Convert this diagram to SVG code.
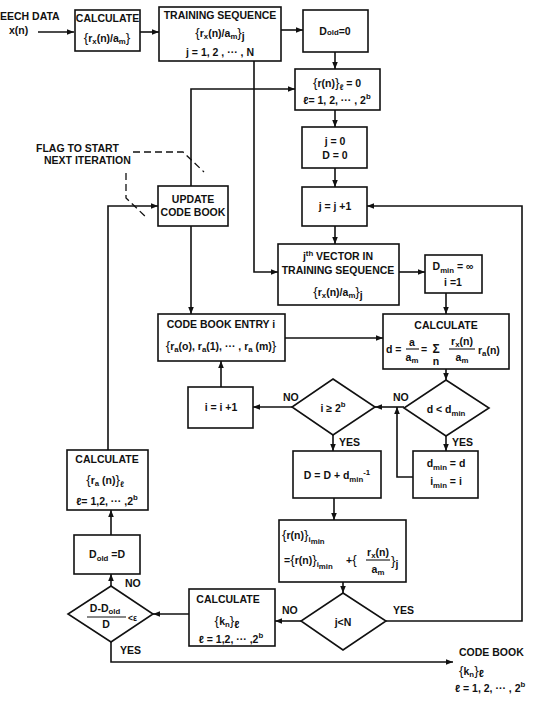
<svg xmlns="http://www.w3.org/2000/svg" width="537" height="704" viewBox="0 0 537 704">
<style>
text{font-family:"Liberation Sans",Arial,sans-serif;font-size:10.5px;font-weight:bold;fill:#111;}
.c{text-anchor:middle;}
.s{font-size:7.8px;}
.b{font-size:13.5px;font-weight:normal;}
rect,polygon.n{fill:#fff;stroke:#111;stroke-width:1.6;}
.cn path{fill:none;stroke:#111;stroke-width:1.6;}
.fr{stroke:#111;stroke-width:1.1;}
.dash{fill:none;stroke:#111;stroke-width:1.3;stroke-dasharray:7,4;}
</style>
<defs>
<marker id="a" viewBox="0 0 10 10" refX="10" refY="5" markerWidth="7" markerHeight="7" markerUnits="userSpaceOnUse" orient="auto">
<path d="M0,1 L10,5 L0,9 z" fill="#111"/>
</marker>
</defs>

<g class="cn" id="connectors">
<path d="M38,32 H74" marker-end="url(#a)"/>
<path d="M140,32 H159" marker-end="url(#a)"/>
<path d="M281,30 H303" marker-end="url(#a)"/>
<path d="M335,52 V69" marker-end="url(#a)"/>
<path d="M254,61 V272 H278" marker-end="url(#a)"/>
<path d="M191,186 V89 H295" marker-end="url(#a)"/>
<path d="M335,110 V127" marker-end="url(#a)"/>
<path d="M335,168 V187" marker-end="url(#a)"/>
<path d="M335,226 V244" marker-end="url(#a)"/>
<path d="M399,272 H425" marker-end="url(#a)"/>
<path d="M446,293 V314" marker-end="url(#a)"/>
<path d="M191,226 V314" marker-end="url(#a)"/>
<path d="M285,338 H383" marker-end="url(#a)"/>
<path d="M446,369 V380" marker-end="url(#a)"/>
<path d="M404,407 H375" marker-end="url(#a)"/>
<path d="M446,436 V451" marker-end="url(#a)"/>
<path d="M413,477 H397 V407" marker-end="url(#a)"/>
<path d="M292,407 H253" marker-end="url(#a)"/>
<path d="M221,387 V361" marker-end="url(#a)"/>
<path d="M333,435 V451" marker-end="url(#a)"/>
<path d="M334,498 V520" marker-end="url(#a)"/>
<path d="M343,582 V593" marker-end="url(#a)"/>
<path d="M301,621 H275" marker-end="url(#a)"/>
<path d="M386,621 H522 V206 H367" marker-end="url(#a)"/>
<path d="M189,614 H153" marker-end="url(#a)"/>
<path d="M111,586 V574" marker-end="url(#a)"/>
<path d="M111,535 V510" marker-end="url(#a)"/>
<path d="M108,450 V206 H158" marker-end="url(#a)"/>
<path d="M111,642 V662 H453" marker-end="url(#a)"/>
</g>

<g id="labels">
<text x="282" y="614">NO</text>
<text x="393" y="614">YES</text>
<text x="283" y="401">NO</text>
<text x="393" y="401">NO</text>
<text x="339" y="446">YES</text>
<text x="452" y="446">YES</text>
<text x="125" y="587">NO</text>
<text x="120" y="654">YES</text>
</g>

<g id="speech">
<text x="0" y="20">EECH DATA</text>
<text x="9" y="34">x(n)</text>
</g>

<g id="calc1">
<rect x="75" y="10" width="65" height="41"/>
<text class="c" x="107.5" y="22">CALCULATE</text>
<text class="c" x="107" y="42"><tspan class="b">{</tspan>r<tspan class="s" dy="2">x</tspan><tspan dy="-2">(n)/a</tspan><tspan class="s" dy="2">m</tspan><tspan class="b" dy="-2">}</tspan></text>
</g>

<g id="training">
<rect x="159" y="7" width="122" height="54"/>
<text class="c" x="220" y="19">TRAINING SEQUENCE</text>
<text class="c" x="220" y="37"><tspan class="b">{</tspan>r<tspan class="s" dy="2">x</tspan><tspan dy="-2">(n)/a</tspan><tspan class="s" dy="2">m</tspan><tspan class="b" dy="-2">}</tspan><tspan dy="3">j</tspan></text>
<text class="c" x="220" y="56">j = 1, 2 , ··· , N</text>
</g>

<g id="dold0">
<rect x="303" y="10" width="65" height="42"/>
<text class="c" x="335" y="35">D<tspan class="s">old</tspan>=0</text>
</g>

<g id="rzero">
<rect x="295" y="69" width="85" height="41"/>
<text class="c" x="337" y="87"><tspan class="b">{</tspan>r(n)<tspan class="b">}</tspan><tspan class="s" dy="3">ℓ</tspan><tspan dy="-3"> = 0</tspan></text>
<text class="c" x="337" y="104">ℓ= 1, 2, ··· , 2<tspan class="s" dy="-5">b</tspan></text>
</g>

<g id="flag">
<text x="36" y="152">FLAG TO START</text>
<text x="44" y="164">NEXT ITERATION</text>
<path class="dash" d="M133,152 H183 L204,172"/>
<path class="dash" d="M126,173 V198 L147,218"/>
</g>

<g id="update">
<rect x="158" y="186" width="70" height="40"/>
<text class="c" x="193" y="203">UPDATE</text>
<text class="c" x="193" y="216">CODE BOOK</text>
</g>

<g id="jzero">
<rect x="302" y="127" width="65" height="41"/>
<text class="c" x="335" y="145">j = 0</text>
<text class="c" x="335" y="159">D = 0</text>
</g>

<g id="jinc">
<rect x="302" y="187" width="65" height="39"/>
<text class="c" x="335" y="210">j = j +1</text>
</g>

<g id="jth">
<rect x="278" y="244" width="121" height="61"/>
<text class="c" x="338" y="260">j<tspan class="s" dy="-4">th</tspan><tspan dy="4"> VECTOR IN</tspan></text>
<text class="c" x="338" y="274">TRAINING SEQUENCE</text>
<text class="c" x="338" y="296"><tspan class="b">{</tspan>r<tspan class="s" dy="2">x</tspan><tspan dy="-2">(n)/a</tspan><tspan class="s" dy="2">m</tspan><tspan class="b" dy="-2">}</tspan><tspan dy="3">j</tspan></text>
</g>

<g id="dmininit">
<rect x="425" y="255" width="57" height="38"/>
<text class="c" x="453" y="270">D<tspan class="s" dy="3">min</tspan><tspan dy="-3"> = ∞</tspan></text>
<text class="c" x="453" y="286">i =1</text>
</g>

<g id="cbentry">
<rect x="158" y="314" width="127" height="47"/>
<text class="c" x="221" y="328">CODE BOOK ENTRY i</text>
<text class="c" x="221" y="350"><tspan class="b">{</tspan>r<tspan class="s" dy="2">a</tspan><tspan dy="-2">(o), r</tspan><tspan class="s" dy="2">a</tspan><tspan dy="-2">(1), ··· , r</tspan><tspan class="s" dy="2">a</tspan><tspan dy="-2"> (m)</tspan><tspan class="b">}</tspan></text>
</g>

<g id="calcd">
<rect x="383" y="314" width="126" height="55"/>
<text class="c" x="446" y="329">CALCULATE</text>
<text x="386" y="353">d =</text>
<text class="c" x="412" y="346">a</text>
<line class="fr" x1="406" y1="349" x2="419" y2="349"/>
<text class="c" x="412" y="361">a<tspan class="s" dy="2">m</tspan></text>
<text x="421" y="353">=</text>
<text class="c" x="436" y="353" style="font-size:12px">Σ</text>
<text class="c" x="436" y="365">n</text>
<text class="c" x="462" y="345">r<tspan class="s" dy="2">x</tspan><tspan dy="-2">(n)</tspan></text>
<line class="fr" x1="449" y1="349" x2="475" y2="349"/>
<text class="c" x="462" y="361">a<tspan class="s" dy="2">m</tspan></text>
<text x="478" y="354">r<tspan class="s" dy="2">a</tspan><tspan dy="-2">(n)</tspan></text>
</g>

<g id="iinc">
<rect x="188" y="387" width="65" height="41"/>
<text class="c" x="221" y="411">i = i +1</text>
</g>

<g id="icmp">
<polygon class="n" points="333,379 375,407 333,435 292,407"/>
<text class="c" x="333" y="412">i ≥ 2<tspan class="s" dy="-5">b</tspan></text>
</g>

<g id="dcmp">
<polygon class="n" points="446,380 489,408 446,436 404,408"/>
<text class="c" x="446" y="413">d &lt; d<tspan class="s" dy="3">min</tspan></text>
</g>

<g id="dminset">
<rect x="413" y="451" width="65" height="47"/>
<text class="c" x="446" y="467">d<tspan class="s" dy="3">min</tspan><tspan dy="-3"> = d</tspan></text>
<text class="c" x="446" y="485">i<tspan class="s" dy="3">min</tspan><tspan dy="-3"> = i</tspan></text>
</g>

<g id="daccum">
<rect x="293" y="451" width="88" height="47"/>
<text class="c" x="337" y="479">D = D + d<tspan class="s" dy="3">min</tspan><tspan class="s" dy="-7">-1</tspan></text>
</g>

<g id="rupdate">
<rect x="279" y="520" width="127" height="62"/>
<text x="282" y="539"><tspan class="b">{</tspan>r(n)<tspan class="b">}</tspan><tspan class="s" dy="3">i</tspan><tspan class="s" dy="2">min</tspan></text>
<text x="284" y="564">=<tspan class="b">{</tspan>r(n)<tspan class="b">}</tspan><tspan class="s" dy="3">i</tspan><tspan class="s" dy="2">min</tspan></text>
<text x="346" y="564">+<tspan class="b">{</tspan></text>
<text class="c" x="378" y="556">r<tspan class="s" dy="2">x</tspan><tspan dy="-2">(n)</tspan></text>
<line class="fr" x1="366" y1="560" x2="390" y2="560"/>
<text class="c" x="378" y="573">a<tspan class="s" dy="2">m</tspan></text>
<text x="391" y="565"><tspan class="b">}</tspan><tspan dy="3">j</tspan></text>
</g>

<g id="jcmp">
<polygon class="n" points="343,593 386,621 343,650 301,621"/>
<text class="c" x="343" y="626">j&lt;N</text>
</g>

<g id="calck">
<rect x="189" y="589" width="86" height="57"/>
<text class="c" x="228" y="603">CALCULATE</text>
<text class="c" x="227" y="625"><tspan class="b">{</tspan>k<tspan class="s" dy="2">n</tspan><tspan class="b" dy="-2">}</tspan><tspan dy="3">ℓ</tspan></text>
<text class="c" x="231" y="643">ℓ = 1,2, ··· ,2<tspan class="s" dy="-5">b</tspan></text>
</g>

<g id="conv">
<polygon class="n" points="111,586 153,614 111,642 68,614"/>
<text class="c" x="105" y="612">D-D<tspan class="s" dy="2">old</tspan></text>
<line class="fr" x1="87" y1="617" x2="126" y2="617"/>
<text class="c" x="106" y="628">D</text>
<text x="128" y="621" style="font-size:8.5px">&lt;ε</text>
</g>

<g id="doldset">
<rect x="74" y="535" width="66" height="39"/>
<text class="c" x="107" y="558">D<tspan class="s" dy="3">old</tspan><tspan dy="-3"> =D</tspan></text>
</g>

<g id="calcra">
<rect x="67" y="450" width="81" height="60"/>
<text class="c" x="107" y="463">CALCULATE</text>
<text class="c" x="105" y="484"><tspan class="b">{</tspan>r<tspan class="s" dy="2">a</tspan><tspan dy="-2"> (n)</tspan><tspan class="b">}</tspan><tspan class="s" dy="3">ℓ</tspan></text>
<text class="c" x="107" y="505">ℓ= 1,2, ··· ,2<tspan class="s" dy="-5">b</tspan></text>
</g>

<g id="codebook">
<text x="459" y="656">CODE BOOK</text>
<text x="459" y="675"><tspan class="b">{</tspan>k<tspan class="s" dy="2">n</tspan><tspan class="b" dy="-2">}</tspan><tspan dy="2">ℓ</tspan></text>
<text x="455" y="692">ℓ = 1, 2, ··· , 2<tspan class="s" dy="-5">b</tspan></text>
</g>
</svg>
